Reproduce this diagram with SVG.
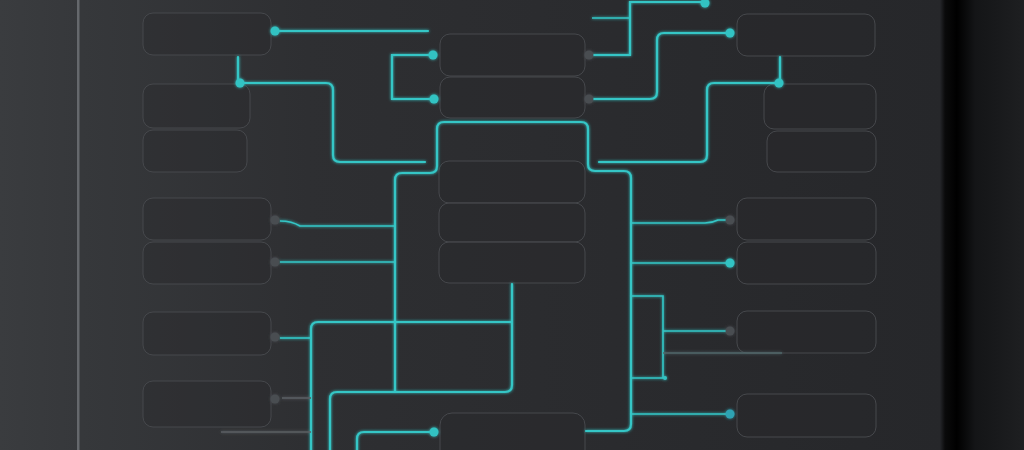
<svg xmlns="http://www.w3.org/2000/svg" width="1024" height="450" viewBox="0 0 1024 450">
<defs>
<linearGradient id="bg" x1="0" y1="0" x2="1" y2="0">
<stop offset="0" stop-color="#3a3c3f"/>
<stop offset="0.08" stop-color="#36383b"/>
<stop offset="0.3" stop-color="#2e2f32"/>
<stop offset="0.6" stop-color="#2a2b2e"/>
<stop offset="1" stop-color="#252629"/>
</linearGradient>
<linearGradient id="band" x1="0" y1="0" x2="1" y2="0">
<stop offset="0" stop-color="#25262a"/>
<stop offset="0.06" stop-color="#0a0a0b"/>
<stop offset="0.2" stop-color="#000000"/>
<stop offset="0.42" stop-color="#141517"/>
<stop offset="1" stop-color="#1e1f21"/>
</linearGradient>
<filter id="glow" x="-10%" y="-10%" width="120%" height="120%">
<feGaussianBlur in="SourceGraphic" stdDeviation="1.5" result="b"/>
<feMerge><feMergeNode in="b"/><feMergeNode in="SourceGraphic"/></feMerge>
</filter>
<style>
.box{fill:#27282b;fill-opacity:0.35;stroke:#46484c;stroke-width:1}
.c{fill:none;stroke:#34c6c6;stroke-width:2.2;stroke-linecap:round}
.ct{fill:none;stroke:#34c6c6;stroke-width:1.6}
.dim{fill:none;stroke:#4f6669;stroke-width:1.6}
.gl{fill:none;stroke:#5a5e62;stroke-width:1.6}
.dc{fill:#33c3c3}
.dg{fill:#4a4d51}
</style>
</defs>
<rect x="0" y="0" width="1024" height="450" fill="url(#bg)"/>
<rect x="940" y="0" width="84" height="450" fill="url(#band)"/>
<rect x="77" y="0" width="2.5" height="450" fill="#65686c"/>

<g id="nodes">
<g id="nA"><rect class="box" x="143" y="13" width="128" height="42" rx="10"/></g>
<g id="nB"><rect class="box" x="143" y="84" width="107" height="44" rx="10"/></g>
<g id="nC"><rect class="box" x="143" y="130" width="104" height="42" rx="10"/></g>
<g id="nD"><rect class="box" x="143" y="198" width="128" height="42" rx="10"/></g>
<g id="nE"><rect class="box" x="143" y="242" width="128" height="42" rx="10"/></g>
<g id="nF"><rect class="box" x="143" y="312" width="128" height="43" rx="10"/></g>
<g id="nG"><rect class="box" x="143" y="381" width="128" height="46" rx="10"/></g>
<g id="nT1"><rect class="box" x="440" y="34" width="145" height="42" rx="10"/></g>
<g id="nT2"><rect class="box" x="440" y="77" width="145" height="41" rx="10"/></g>
<g id="nM1"><rect class="box" x="439" y="161" width="146" height="42" rx="10"/></g>
<g id="nM2"><rect class="box" x="439" y="203" width="146" height="39" rx="10"/></g>
<g id="nM3"><rect class="box" x="439" y="242" width="146" height="41" rx="10"/></g>
<g id="nBot"><rect class="box" x="440" y="413" width="145" height="52" rx="12"/></g>
<g id="nR1"><rect class="box" x="737" y="14" width="138" height="42" rx="10"/></g>
<g id="nR2"><rect class="box" x="764" y="84" width="112" height="45" rx="10"/></g>
<g id="nR3"><rect class="box" x="767" y="131" width="109" height="41" rx="10"/></g>
<g id="nR4"><rect class="box" x="737" y="198" width="139" height="42" rx="10"/></g>
<g id="nR5"><rect class="box" x="737" y="242" width="139" height="42" rx="10"/></g>
<g id="nR6"><rect class="box" x="737" y="311" width="139" height="42" rx="10"/></g>
<g id="nR7"><rect class="box" x="737" y="394" width="139" height="43" rx="10"/></g>
</g>

<g id="connectors" filter="url(#glow)">
<path class="c" d="M275,31 H428"/>
<path class="c" d="M238,57 V83 H326 Q333,83 333,90 V155 Q333,162 340,162 H425"/>
<path class="c" d="M433,55 H392 V99 H434"/>
<path class="c" stroke-width="2.6" d="M395,392 V180 Q395,173 402,173 H430 Q437,173 437,166 V129 Q437,122 444,122 H581 Q588,122 588,129 V164 Q588,171 595,171 H624 Q631,171 631,178 V424 Q631,431 624,431 H586"/>
<path class="c" d="M330,452 V399 Q330,392 337,392 H505 Q512,392 512,385 V284"/>
<path class="c" d="M311,452 V329 Q311,322 318,322 H512"/>
<path class="c" d="M357,452 V439 Q357,432 364,432 H434"/>
<path class="ct" d="M280,221 Q292,221 300,226 H395"/>
<path class="ct" d="M280,262 H395"/>
<path class="ct" d="M280,338 H311"/>
<path class="gl" d="M282,398 H311"/>
<path class="gl" d="M221,432 H311"/>
<path class="c" d="M592,55 H630 V2 H705"/>
<path class="ct" d="M592,18 H630"/>
<path class="c" d="M592,99 H650 Q657,99 657,92 V40 Q657,33 664,33 H730"/>
<path class="c" d="M780,57 V83 H714 Q707,83 707,90 V155 Q707,162 700,162 H599"/>
<path class="ct" d="M631,223 H705 Q712,223 718,220 H730"/>
<path class="ct" d="M631,263 H730"/>
<path class="ct" d="M631,296 H663 V378 H631"/>
<path class="ct" d="M663,331 H730"/>
<path class="dim" d="M663,353 H782"/>
<path class="ct" d="M631,414 H730"/>
<circle class="dc" cx="275" cy="31" r="4.5"/>
<circle class="dc" cx="240" cy="83" r="4.5"/>
<circle class="dc" cx="433" cy="55" r="4.5"/>
<circle class="dc" cx="434" cy="99" r="4.5"/>
<circle class="dc" cx="434" cy="432" r="4.5"/>
<circle class="dc" cx="705" cy="3" r="4.5"/>
<circle class="dc" cx="730" cy="33" r="4.5"/>
<circle class="dc" cx="779" cy="83" r="4.5"/>
<circle class="dc" cx="730" cy="263" r="4.5"/>
<circle cx="730" cy="414" r="4.5" fill="#2fa3b3"/>
<circle class="dc" cx="665" cy="378" r="2"/>
<circle class="dg" cx="275" cy="220" r="4.5"/>
<circle class="dg" cx="275" cy="262" r="4.5"/>
<circle class="dg" cx="275" cy="337" r="4.5"/>
<circle class="dg" cx="275" cy="399" r="4.5"/>
<circle class="dg" cx="589" cy="55" r="4.5"/>
<circle class="dg" cx="589" cy="99" r="4.5"/>
<circle class="dg" cx="730" cy="220" r="4.5"/>
<circle class="dg" cx="730" cy="331" r="4.5"/>
</g>
</svg>
